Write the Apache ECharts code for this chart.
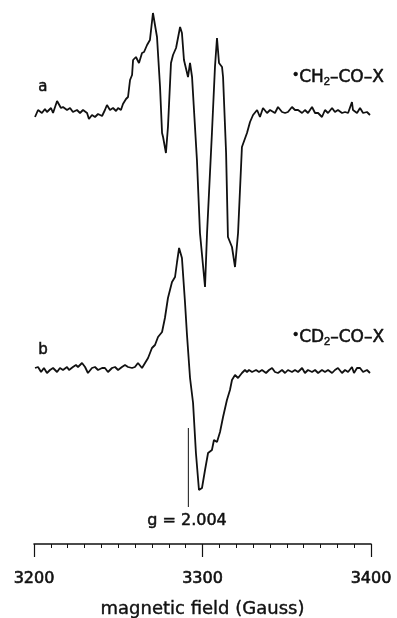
<!DOCTYPE html>
<html>
<head>
<meta charset="utf-8">
<title>EPR spectra</title>
<script src="https://cdn.jsdelivr.net/npm/echarts@6/dist/echarts.min.js"></script>
<style>
  html, body { margin: 0; padding: 0; background: #fff; }
  #chart { width: 397px; height: 618px; }
</style>
</head>
<body>
<div id="chart"></div>
<script>
// Campo magnético (Gauss) y señal (unidades arbitrarias) del espectro a: •CH2-CO-X
const fieldA = [
  3200.6, 3202.4, 3204.7, 3206.5, 3207.7, 3210.1, 3211.3, 3213.7, 3216.0, 3217.2,
  3219.6, 3221.4, 3223.1, 3225.5, 3227.3, 3229.1, 3231.5, 3232.6, 3234.4, 3236.2,
  3238.0, 3240.4, 3242.1, 3243.3, 3245.1, 3246.9, 3248.7, 3249.9, 3251.6, 3252.8,
  3254.6, 3255.8, 3257.0, 3258.2, 3258.8, 3260.5, 3262.3, 3264.1, 3265.3, 3267.1,
  3267.7, 3268.8, 3270.6, 3273.0, 3274.8, 3276.0, 3276.6, 3278.3, 3279.5, 3281.3,
  3282.5, 3284.3, 3286.7, 3287.8, 3289.0, 3291.4, 3292.6, 3293.8, 3296.7, 3298.5,
  3301.5, 3302.7, 3305.6, 3307.4, 3308.6, 3309.8, 3311.6, 3312.2, 3314.0, 3315.1,
  3317.5, 3319.3, 3321.1, 3323.4, 3326.4, 3328.2, 3330.0, 3332.4, 3334.1, 3335.9,
  3338.3, 3340.1, 3343.0, 3344.8, 3347.2, 3349.0, 3350.7, 3353.1, 3354.9, 3356.7,
  3359.1, 3360.8, 3362.6, 3365.0, 3366.8, 3368.6, 3370.9, 3372.7, 3374.5, 3376.9,
  3378.6, 3380.4, 3382.8, 3384.6, 3386.4, 3388.7, 3389.3, 3391.7, 3393.5, 3395.3,
  3397.6, 3399.4
];
const signalA = [
  -5, 2, -1, 3, 0, 4, -1, 11, 4, 5,
  2, 4, 0, 2, -1, 2, -1, -7, -3, -5,
  -2, -4, 2, 7, 2, 4, 1, 4, 2, 8,
  13, 15, 32, 37, 52, 55, 49, 59, 60, 67,
  65, 72, 99, 75, 25, -21, -25, -41, -15, 49,
  57, 64, 85, 79, 52, 35, 49, 35, -48, -121,
  -175, -121, -21, 45, 74, 49, 45, 35, -41, -125,
  -135, -155, -121, -35, -21, -10, -3, 2, -5, 4,
  -1, 2, -1, 5, 0, -1, 0, 5, 2, 2,
  -1, 2, -1, 5, -1, -1, -5, 2, -1, 4,
  0, 2, -1, 0, -1, 10, 2, -1, 4, -1,
  0, -3
];

// Espectro b: •CD2-CO-X
const fieldB = [
  3200.6, 3202.4, 3204.2, 3205.9, 3207.7, 3209.5, 3211.3, 3213.7, 3215.4, 3217.2,
  3219.6, 3220.8, 3223.1, 3224.9, 3226.1, 3228.5, 3230.3, 3232.0, 3234.4, 3236.2,
  3238.0, 3240.4, 3242.1, 3243.9, 3246.3, 3248.1, 3249.9, 3252.2, 3254.0, 3255.8,
  3258.2, 3259.9, 3261.7, 3264.1, 3265.9, 3267.7, 3270.0, 3271.8, 3273.6, 3276.0,
  3277.7, 3279.5, 3281.9, 3283.7, 3284.9, 3286.1, 3287.8, 3289.6, 3290.8, 3292.6,
  3294.4, 3296.1, 3297.9, 3299.7, 3301.5, 3303.3, 3305.6, 3306.8, 3308.6, 3310.4,
  3312.2, 3314.5, 3316.3, 3317.5, 3319.3, 3321.1, 3323.4, 3325.2, 3326.4, 3327.6,
  3329.4, 3331.8, 3333.5, 3335.3, 3337.7, 3339.5, 3341.3, 3343.0, 3344.8, 3347.2,
  3349.0, 3350.7, 3353.1, 3354.9, 3356.7, 3359.1, 3360.8, 3362.6, 3365.0, 3366.8,
  3368.6, 3370.9, 3372.7, 3374.5, 3376.9, 3378.6, 3380.4, 3382.8, 3384.6, 3386.4,
  3388.7, 3389.9, 3391.7, 3393.5, 3395.3, 3397.6, 3399.4
];
const signalB = [
  2, 3, -2, 2, -3, 0, 2, -2, 2, 0,
  3, 0, 3, 5, 3, 7, 3, -3, 2, 3,
  0, 2, 2, -2, 2, 3, 0, 3, 5, 3,
  2, 3, 7, 2, 7, 12, 22, 25, 33, 38,
  52, 72, 88, 93, 108, 122, 112, 68, 35, -8,
  -33, -83, -120, -118, -100, -83, -80, -70, -72, -62,
  -47, -30, -20, -10, -5, -8, -3, 0, -2, 0,
  -2, 0, -2, 0, -3, 0, 2, -2, -3, 0,
  -3, 0, -2, 0, -2, 2, -3, 0, -2, 0,
  -3, 0, -2, 0, -3, 0, 2, -3, 0, -2,
  3, -3, 2, 2, -2, 0, -3
];

// Marcador g = 2.004
const gField = 3291.6;
const gMarkerRange = [116, 37];

// Etiquetas del eje x
const xTicks = [3200, 3300, 3400];

// Desplazamiento vertical de cada espectro (apilados)
const offsetA = 432;
const offsetB = 174;

const ink = '#111';
const font = 'DejaVu Sans';

const chart = echarts.init(document.getElementById('chart'));

const seriesA = fieldA.map((f, i) => [f, signalA[i] + offsetA]);
const seriesB = fieldB.map((f, i) => [f, signalB[i] + offsetB]);
const gLine = gMarkerRange.map(v => [gField, v]);

// Texto con trazo fino para imitar la impresión gruesa del original
function labelStyle(text, size, rich) {
    return {
        text: text,
        fill: ink,
        font: size + 'px "DejaVu Sans"',
        stroke: ink,
        lineWidth: 0.5,
        rich: rich
    };
}

const formulaRich = {
    d: { fontSize: 14, verticalAlign: 'top', fill: ink, padding: [1, 1, 0, 0] },
    s: { fontSize: 11, padding: [9, 0, 0, 0], fill: ink }
};

const option = {
    animation: false,
    backgroundColor: '#fff',
    grid: {
        left: 34,
        right: 26,
        top: 0,
        bottom: 74,
        outerBoundsMode: 'none'
    },
    xAxis: [
        {
            type: 'value',
            min: 3200,
            max: 3400,
            interval: 10,
            axisLine: { lineStyle: { color: ink, width: 1.6 } },
            axisTick: { length: 4, lineStyle: { color: ink, width: 1 } },
            axisLabel: { show: false },
            splitLine: { show: false }
        },
        {
            type: 'value',
            position: 'bottom',
            min: 3200,
            max: 3400,
            interval: 100,
            axisLine: { show: false },
            axisTick: { length: 13, lineStyle: { color: ink, width: 1.2 } },
            axisLabel: {
                margin: 27,
                color: ink,
                fontFamily: font,
                fontSize: 16,
                textBorderColor: ink,
                textBorderWidth: 0.6,
                formatter: v => (xTicks.includes(v) ? String(v) : '')
            },
            splitLine: { show: false },
            name: 'magnetic field (Gauss)',
            nameLocation: 'middle',
            nameGap: 56,
            nameTextStyle: {
                color: ink,
                fontFamily: font,
                fontSize: 18,
                textBorderColor: ink,
                textBorderWidth: 0.4
            }
        }
    ],
    yAxis: {
        type: 'value',
        min: 0,
        max: 544,
        show: false
    },
    series: [
        {
            name: 'a',
            type: 'line',
            data: seriesA,
            showSymbol: false,
            lineStyle: { color: ink, width: 1.8 }
        },
        {
            name: 'b',
            type: 'line',
            data: seriesB,
            showSymbol: false,
            lineStyle: { color: ink, width: 1.8 }
        },
        {
            name: 'g',
            type: 'line',
            data: gLine,
            showSymbol: false,
            lineStyle: { color: ink, width: 1 }
        }
    ],
    graphic: [
        { type: 'text', left: 38, top: 79, style: labelStyle('a', 15) },
        { type: 'text', left: 38, top: 342, style: labelStyle('b', 15) },
        { type: 'text', left: 293, top: 68, style: labelStyle('{d|•}CH{s|2}–CO–X', 17, formulaRich) },
        { type: 'text', left: 293, top: 328, style: labelStyle('{d|•}CD{s|2}–CO–X', 17, formulaRich) },
        { type: 'text', left: 147, top: 513, style: labelStyle('g = 2.004', 16) }
    ]
};

chart.setOption(option);
</script>
</body>
</html>
